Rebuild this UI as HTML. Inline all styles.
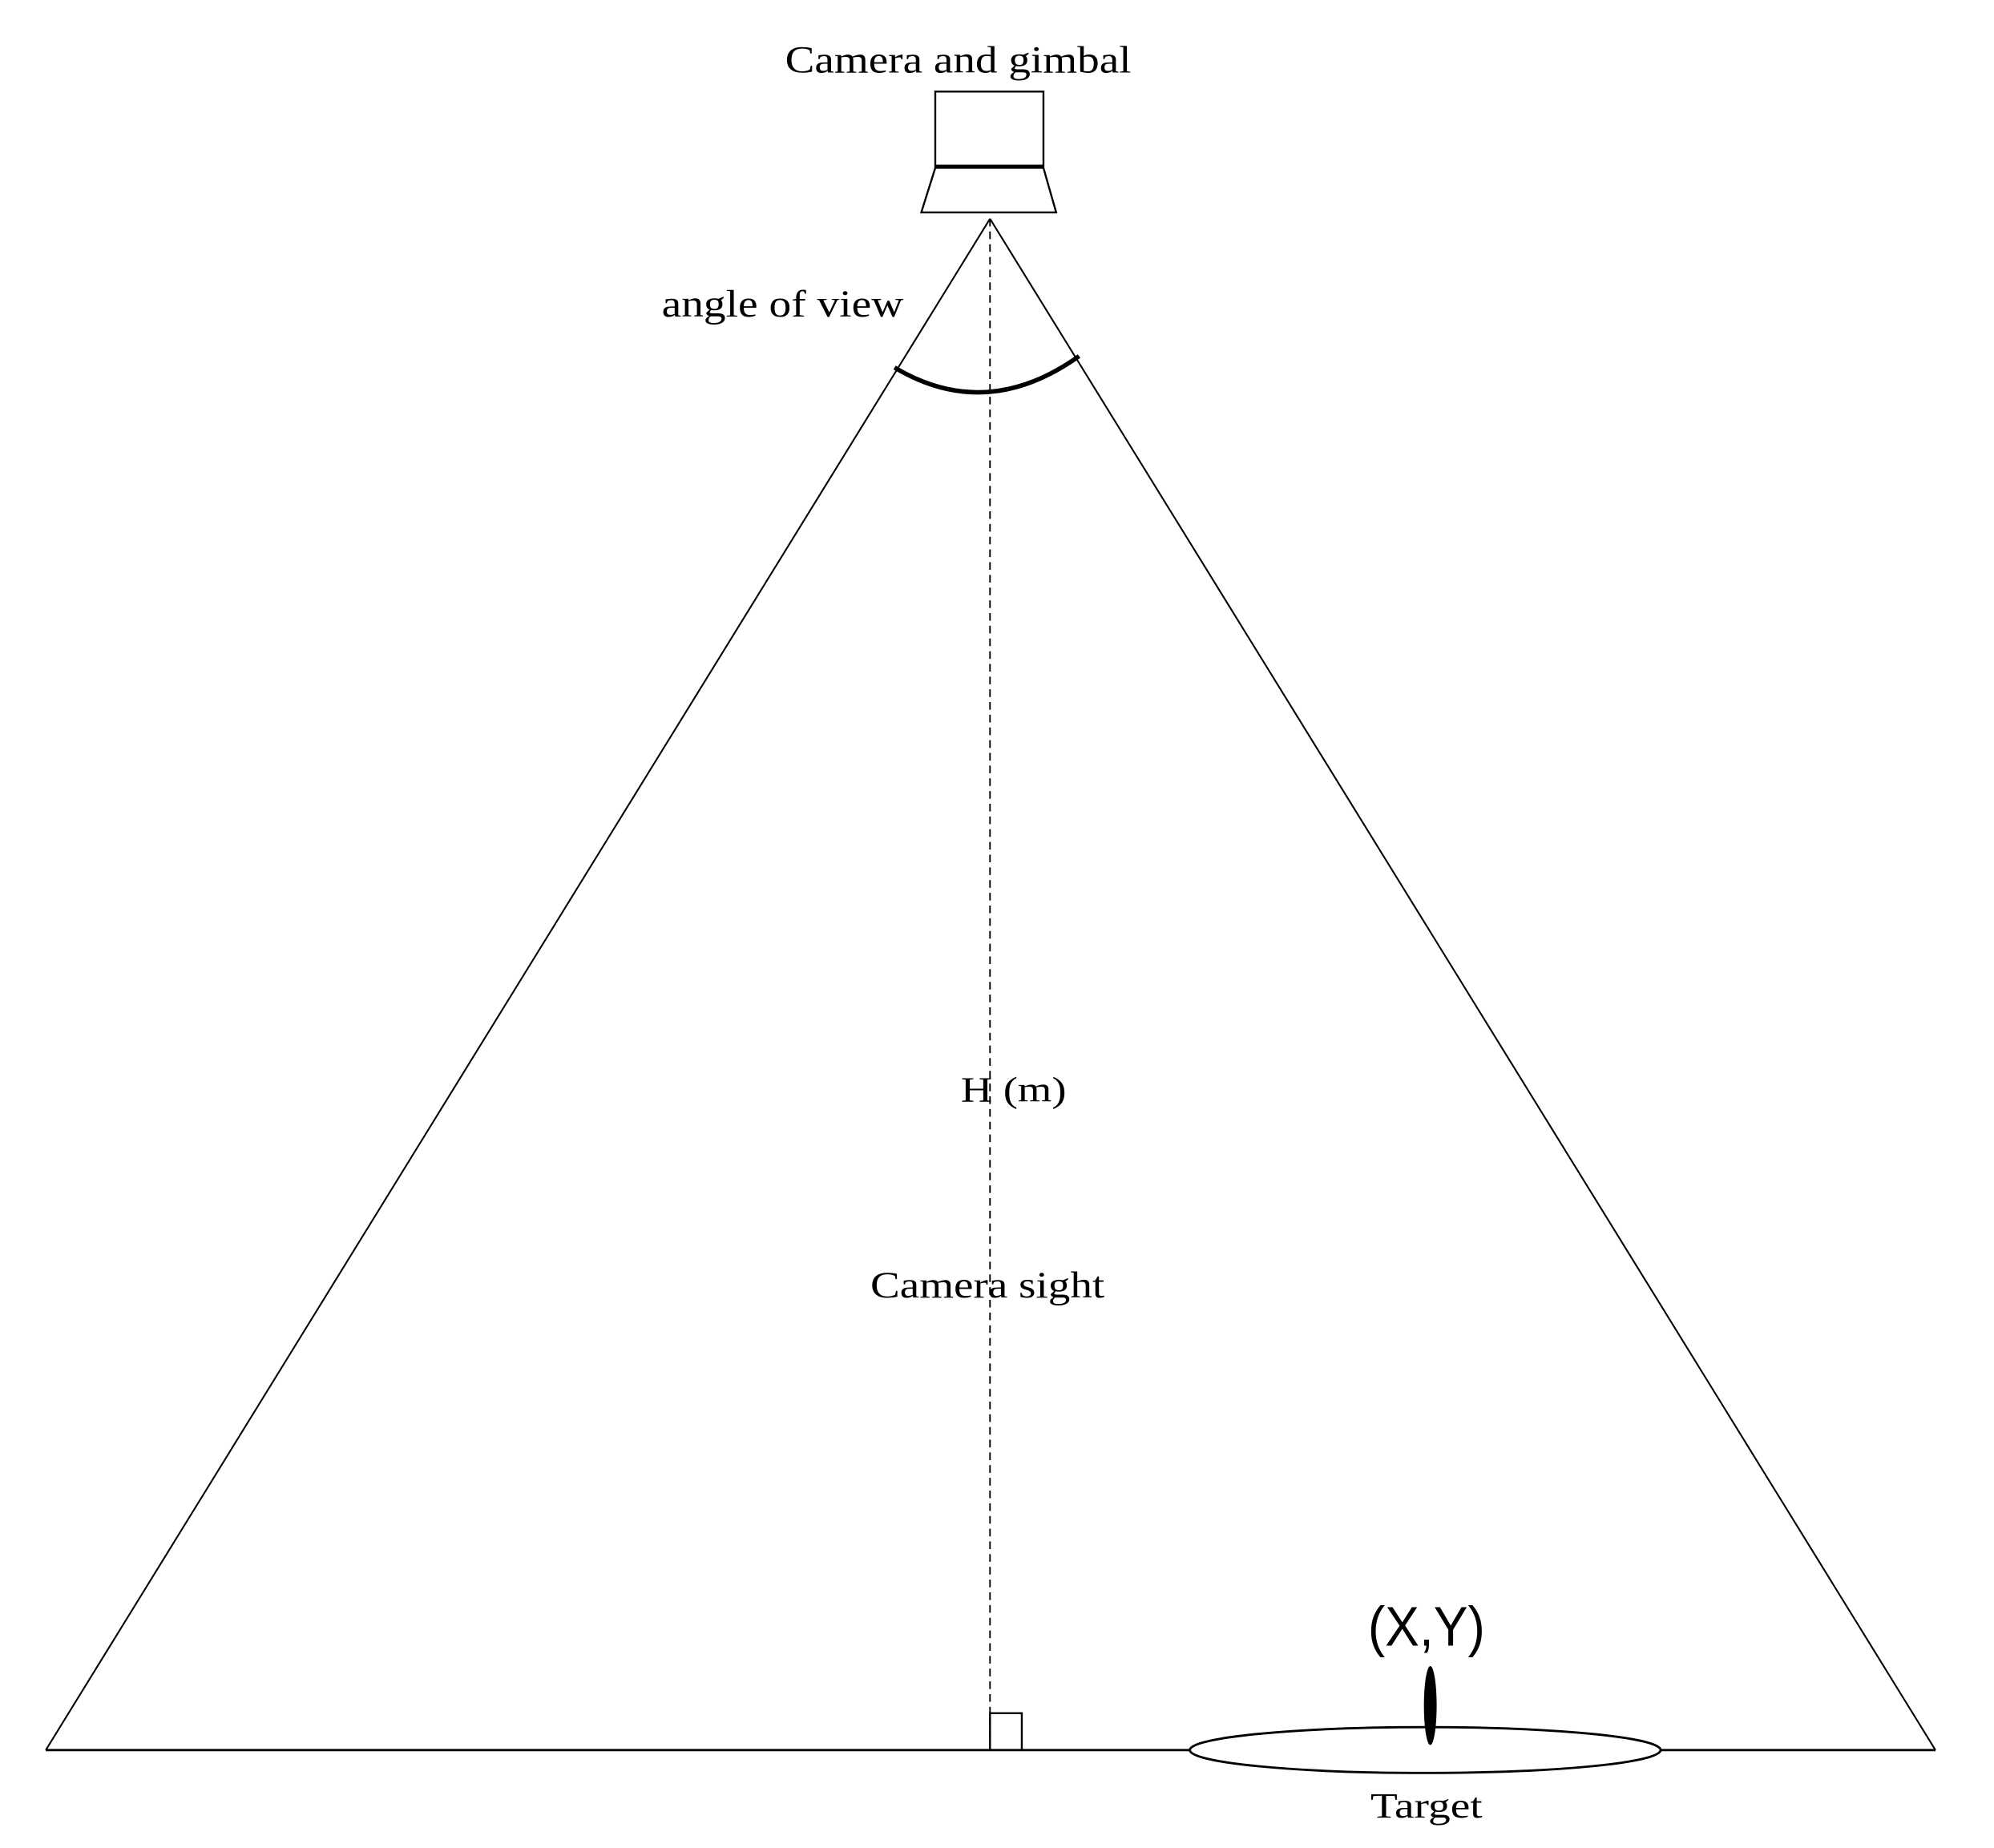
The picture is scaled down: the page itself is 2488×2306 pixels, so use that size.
<!DOCTYPE html>
<html><head><meta charset="utf-8"><style>html,body{margin:0;padding:0;background:#fff}svg{display:block}</style></head>
<body>
<svg width="2488" height="2306" viewBox="0 0 1567 1453" preserveAspectRatio="none" xmlns="http://www.w3.org/2000/svg">
<rect x="0" y="0" width="1567" height="1453" fill="#fff"/>
<g font-family="Liberation Serif, serif" fill="#000">
<text x="617" y="57" font-size="30" textLength="272" lengthAdjust="spacingAndGlyphs">Camera and gimbal</text>
<text x="520" y="249" font-size="30" textLength="190" lengthAdjust="spacingAndGlyphs">angle of view</text>
<text x="755" y="866" font-size="28" textLength="83" lengthAdjust="spacingAndGlyphs">H (m)</text>
<text x="684" y="1020" font-size="29" textLength="184" lengthAdjust="spacingAndGlyphs">Camera sight</text>
<text x="1077" y="1429" font-size="28" textLength="88" lengthAdjust="spacingAndGlyphs">Target</text>
</g>
<text x="1075" y="1294" font-family="Liberation Sans, sans-serif" font-size="44" textLength="92" lengthAdjust="spacingAndGlyphs">(X,Y)</text>
<g stroke="#000" fill="none">
<rect x="735" y="72" width="85" height="59" stroke-width="1.5"/>
<line x1="735" y1="131" x2="820" y2="131" stroke-width="3"/>
<polygon points="735,132 820,132 830,167 724,167" stroke-width="1.5" fill="#fff"/>
<line x1="778" y1="172" x2="36" y2="1376" stroke-width="1.3"/>
<line x1="778" y1="172" x2="1521" y2="1376" stroke-width="1.3"/>
<line x1="778" y1="172" x2="778" y2="1376" stroke-width="1.2" stroke-dasharray="6,4"/>
<path d="M703,289 Q775,332 848,280" stroke-width="3.5"/>
<line x1="36" y1="1376" x2="1521" y2="1376" stroke-width="1.8"/>
<rect x="778" y="1347" width="25" height="29" stroke-width="1.5"/>
<ellipse cx="1120" cy="1376" rx="185" ry="18" fill="#fff" stroke-width="1.8"/>
</g>
<ellipse cx="1124" cy="1341" rx="5" ry="31" fill="#000"/>
</svg>
</body></html>
